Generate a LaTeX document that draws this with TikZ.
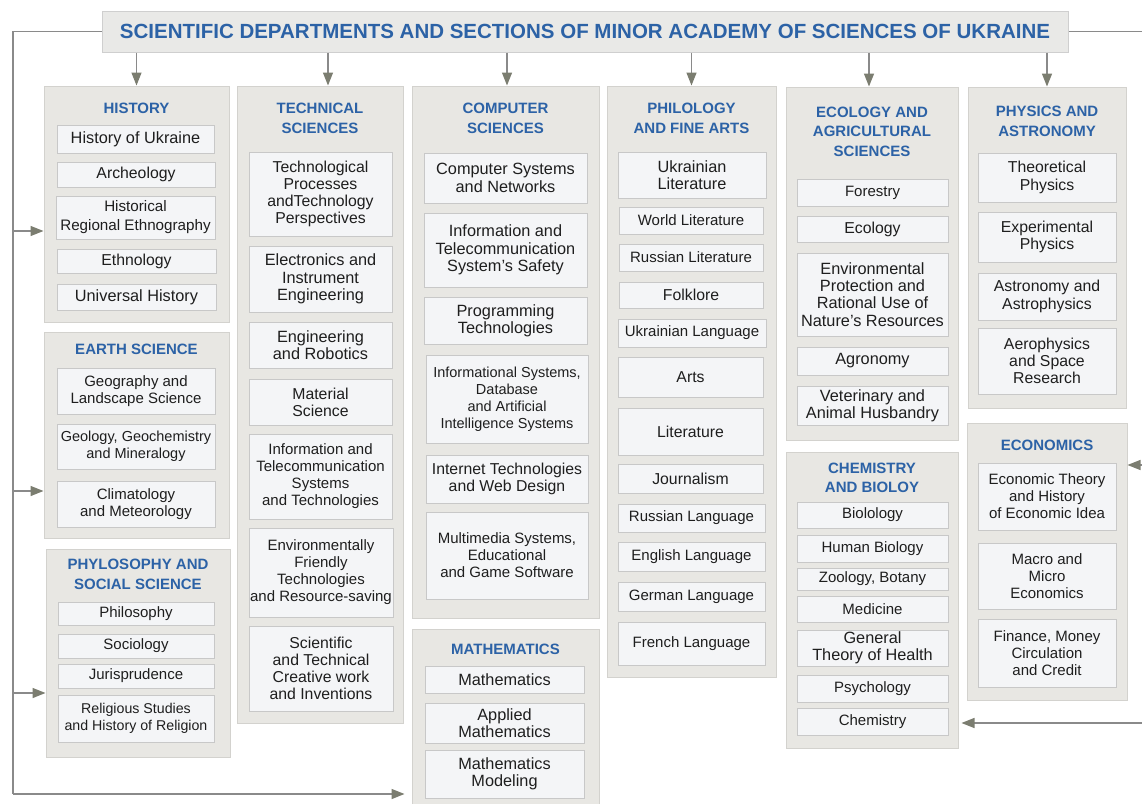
\documentclass[tikz,border=0pt]{standalone}
\usepackage{fontspec}
\setmainfont{Liberation Sans}
\usetikzlibrary{arrows.meta}
\definecolor{hblue}{HTML}{2C62A6}
\definecolor{catfill}{HTML}{E8E7E3}
\definecolor{catdraw}{HTML}{D3D2CE}
\definecolor{itemfill}{HTML}{F4F5F7}
\definecolor{itemdraw}{HTML}{C8C8C8}
\definecolor{titlefill}{HTML}{E9E9E7}
\definecolor{titledraw}{HTML}{CFCFCF}
\definecolor{linec}{HTML}{8A8A8A}
\definecolor{tipc}{HTML}{7B7D70}
\definecolor{txt}{HTML}{1E1E1E}
\tikzset{
  cat/.style={draw=catdraw, fill=catfill, line width=1pt, inner sep=0pt},
  item/.style={draw=itemdraw, fill=itemfill, line width=0.8pt, inner sep=0pt, align=center, text=txt, font=\fontsize{15}{17}\selectfont},
  big/.style={font=\fontsize{16.3}{17.3}\selectfont},
  mid/.style={font=\fontsize{15.8}{17.2}\selectfont},
  small/.style={font=\fontsize{14.2}{16.5}\selectfont},
  head/.style={text=hblue, font=\bfseries\fontsize{15}{19.5}\selectfont, align=center, inner sep=0pt},
  titlebox/.style={draw=titledraw, fill=titlefill, line width=1pt, inner sep=0pt, text=hblue, font=\bfseries\fontsize{20.5}{24}\selectfont},
  conn/.style={draw=linec, line width=1.4pt},
  arr/.style={conn, -{Triangle[width=10pt,length=13pt,color=tipc]}},
}
\newcommand\ibox[7][]{\node[item,minimum width={#5pt-#3pt},minimum height={#6pt-#4pt},#1] (#2) at ({(#3+#5)/2},{(#4+#6)/2}) {#7};}
\newcommand\cbox[5]{\node[cat,minimum width={#4pt-#2pt},minimum height={#5pt-#3pt}] (#1) at ({(#2+#4)/2},{(#3+#5)/2}) {};}
\begin{document}
\begin{tikzpicture}[x=1pt,y=-1pt]
\fill[white] (0,0) rectangle (1142,803);
\useasboundingbox (0,0) rectangle (1142,803);
\clip (0,0) rectangle (1142,803);

% title
\node[titlebox,minimum width=966pt,minimum height=41pt] (title) at (585,31.5) {SCIENTIFIC DEPARTMENTS AND SECTIONS OF MINOR ACADEMY OF SCIENCES OF UKRAINE};

% category boxes
\cbox{hist}{44}{86}{229}{322}
\cbox{earth}{44}{332}{229}{538}
\cbox{phil}{46}{549}{230}{757}
\cbox{tech}{237}{86}{403}{723}
\cbox{comp}{412}{86}{599}{618}
\cbox{mat}{412}{629}{599}{812}
\cbox{philo}{607}{86}{776}{677}
\cbox{eco}{786}{87}{958}{440}
\cbox{chem}{786}{452}{958}{748}
\cbox{phys}{968}{87}{1126}{408}
\cbox{econ}{967}{423}{1127}{700}

% headers
\node[head] (histh) at (136.5,108) {HISTORY};
\node[head] (earthh) at (136.5,349) {EARTH SCIENCE};
\node[head] (philh) at (138,574.5) {PHYLOSOPHY AND\\SOCIAL SCIENCE};
\node[head] (techh) at (320,118.5) {TECHNICAL\\SCIENCES};
\node[head] (comph) at (505.5,118.5) {COMPUTER\\SCIENCES};
\node[head] (math) at (505.5,649) {MATHEMATICS};
\node[head] (philoh) at (691.5,118.5) {PHILOLOGY\\AND FINE ARTS};
\node[head] (ecoh) at (872,131.5) {ECOLOGY AND\\AGRICULTURAL\\SCIENCES};
\node[head] (chemh) at (872,478) {CHEMISTRY\\AND BIOLOY};
\node[head] (physh) at (1047,121.5) {PHYSICS AND\\ASTRONOMY};
\node[head] (econh) at (1047,445) {ECONOMICS};

% history
\ibox[big]{h1}{57}{125}{214}{153}{History of Ukraine}
\ibox[mid]{h2}{57}{162}{215}{187}{Archeology}
\ibox[font=\fontsize{15.2}{19}\selectfont]{h3}{56}{196}{215}{239}{Historical\\Regional Ethnography}
\ibox[mid]{h4}{57}{249}{216}{273}{Ethnology}
\ibox[big]{h5}{57}{284}{216}{310}{Universal History}
% earth
\ibox{e1}{57}{368}{215}{414}{Geography and\\Landscape Science}
\ibox[font=\fontsize{14.5}{17}\selectfont]{e2}{57}{424}{215}{469}{Geology, Geochemistry\\and Mineralogy}
\ibox{e3}{57}{481}{215}{527}{Climatology\\and Meteorology}
% philosophy
\ibox{p1}{58}{602}{214}{625}{Philosophy}
\ibox{p2}{58}{634}{214}{658}{Sociology}
\ibox{p3}{58}{664}{214}{688}{Jurisprudence}
\ibox[small]{p4}{58}{695}{214}{742}{Religious Studies\\and History of Religion}
% technical
\ibox[mid]{t1}{249}{152}{392}{236}{Technological\\Processes\\andTechnology\\Perspectives}
\ibox[big]{t2}{249}{246}{392}{312}{Electronics and\\Instrument\\Engineering}
\ibox[big]{t3}{249}{322}{392}{368}{Engineering\\and Robotics}
\ibox[mid]{t4}{249}{379}{392}{425}{Material\\Science}
\ibox{t5}{249}{434}{392}{519}{Information and\\Telecommunication\\Systems\\and Technologies}
\ibox{t6}{249}{528}{393}{617}{Environmentally\\Friendly\\Technologies\\and Resource-saving}
\ibox[mid]{t7}{249}{626}{393}{711}{Scientific\\and Technical\\Creative work\\and Inventions}
% computer
\ibox[big]{c1}{424}{153}{587}{203}{Computer Systems\\and Networks}
\ibox[big]{c2}{424}{213}{587}{287}{Information and\\Telecommunication\\System's Safety}
\ibox[big]{c3}{424}{297}{587}{344}{Programming\\Technologies}
\ibox[font=\fontsize{14.5}{17}\selectfont]{c4}{426}{355}{588}{443}{Informational Systems,\\Database\\and Artificial\\Intelligence Systems}
\ibox[mid]{c5}{426}{455}{588}{503}{Internet Technologies\\and Web Design}
\ibox{c6}{426}{512}{588}{599}{Multimedia Systems,\\Educational\\and Game Software}
% mathematics
\ibox[big]{m1}{425}{666}{584}{693}{Mathematics}
\ibox[big]{m2}{425}{703}{584}{743}{Applied\\Mathematics}
\ibox[big]{m3}{425}{750}{584}{798}{Mathematics\\Modeling}
% philology
\ibox[big]{f1}{618}{152}{766}{198}{Ukrainian\\Literature}
\ibox{f2}{619}{207}{763}{234}{World Literature}
\ibox{f3}{619}{244}{763}{271}{Russian Literature}
\ibox[mid]{f4}{619}{282}{763}{308}{Folklore}
\ibox{f5}{618}{319}{766}{347}{Ukrainian Language}
\ibox[mid]{f6}{618}{357}{763}{397}{Arts}
\ibox[mid]{f7}{618}{408}{763}{455}{Literature}
\ibox[mid]{f8}{618}{464}{763}{493}{Journalism}
\ibox{f9}{618}{504}{765}{532}{Russian Language}
\ibox{f10}{618}{542}{765}{571}{English Language}
\ibox{f11}{618}{582}{765}{611}{German Language}
\ibox{f12}{618}{622}{765}{665}{French Language}
% ecology
\ibox{g1}{797}{179}{948}{206}{Forestry}
\ibox[mid]{g2}{797}{216}{948}{242}{Ecology}
\ibox[big]{g3}{797}{253}{948}{336}{Environmental\\Protection and\\Rational Use of\\Nature's Resources}
\ibox[big]{g4}{797}{347}{948}{375}{Agronomy}
\ibox[big]{g5}{797}{386}{948}{425}{Veterinary and\\Animal Husbandry}
% chemistry
\ibox{k1}{797}{502}{948}{528}{Biolology}
\ibox{k2}{797}{535}{948}{562}{Human Biology}
\ibox{k3}{797}{568}{948}{590}{Zoology, Botany}
\ibox{k4}{797}{596}{948}{622}{Medicine}
\ibox[big]{k5}{797}{630}{948}{666}{General\\Theory of Health}
\ibox{k6}{797}{675}{948}{702}{Psychology}
\ibox{k7}{797}{708}{948}{735}{Chemistry}
% physics
\ibox[mid]{y1}{978}{153}{1116}{202}{Theoretical\\Physics}
\ibox[mid]{y2}{978}{212}{1116}{262}{Experimental\\Physics}
\ibox[mid]{y3}{978}{273}{1116}{320}{Astronomy and\\Astrophysics}
\ibox[mid]{y4}{978}{328}{1116}{394}{Aerophysics\\and Space\\Research}
% economics
\ibox{n1}{978}{463}{1116}{530}{Economic Theory\\and History\\of Economic Idea}
\ibox{n2}{978}{543}{1116}{609}{Macro and\\Micro\\Economics}
\ibox{n3}{978}{619}{1116}{687}{Finance, Money\\Circulation\\and Credit}

% connectors
\coordinate (lt) at (13,31.5);
\coordinate (lb) at (13,794);
\coordinate (la1) at (13,231);
\coordinate (la2) at (13,491);
\coordinate (la3) at (13,693);
\coordinate (rt) at (1142,31.5);
\coordinate (ra1) at (1142,465);
\coordinate (ra2) at (1142,723);
\draw[conn] (title.west) -- (lt) -- (lb);
\draw[arr] (lb) -- ([xshift=-7pt]lb -| mat.west);
\draw[arr] (la1) -- (la1 -| hist.west);
\draw[arr] (la2) -- (la2 -| earth.west);
\draw[arr] (la3) -- (la3 -| phil.west);
\draw[conn] (title.east) -- (rt);
\draw[arr] (ra1) -- (ra1 -| econ.east);
\draw[arr] (ra2) -- ([xshift=3pt]ra2 -| chem.east);

\draw[arr] (title.south -| hist.north) -- (hist.north);
\draw[arr] ([xshift=8pt]tech.north |- title.south) -- ([xshift=8pt]tech.north);
\draw[arr] ([xshift=1.5pt]comp.north |- title.south) -- ([xshift=1.5pt]comp.north);
\draw[arr] (title.south -| philo.north) -- (philo.north);
\draw[arr] ([xshift=-3pt]eco.north |- title.south) -- ([xshift=-3pt]eco.north);
\draw[arr] (title.south -| phys.north) -- (phys.north);
\end{tikzpicture}
\end{document}
